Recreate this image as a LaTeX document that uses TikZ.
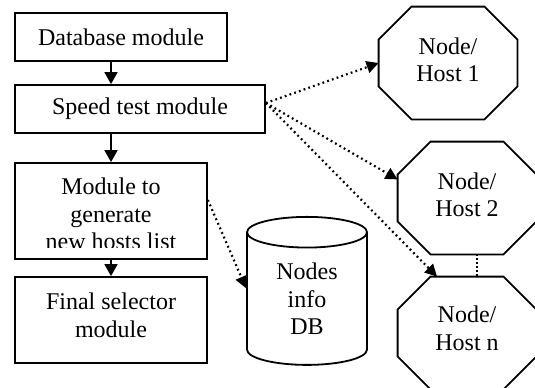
\documentclass[tikz,border=0pt]{standalone}
\usepackage{fontspec}
\setmainfont{Liberation Serif}
\usetikzlibrary{shapes.geometric,arrows.meta}

\begin{document}
\begin{tikzpicture}[x=0.5pt,y=-0.5pt,font=\fontsize{12}{13.8}\selectfont,
  box/.style={draw,line width=0.9pt,inner sep=0pt,align=center},
  host/.style={inner sep=0pt,minimum width=69pt,minimum height=56pt,
    align=center,text depth=3.5pt},
  flow/.style={-{Triangle[width=6.5pt,length=6pt]},line width=0.9pt},
  link/.style={-{Triangle[width=6pt,length=6pt]},line width=1.1pt,
    dash pattern=on 0.9pt off 1.6pt}]
      \clip (0,0) rectangle (535,387);
      \node [box, minimum width=106pt, minimum height=24pt] (db) at (121,37) {Database module};
      \node [box, minimum width=125pt, minimum height=24pt] (speed) at (140,109) {Speed test module};
      \node [box, minimum width=96pt, minimum height=48pt] (gen) at (111,211) {};
      \begin{scope}
      \clip (15,163) rectangle (207,247);
      \node [align=center, inner sep=0pt] (gentext) at (111,214) {Module to\\generate\\new hosts list};
      \end{scope}
      \node [box, minimum width=96pt, minimum height=43pt, text depth=5pt] (final) at (111,320) {Final selector\\module};
      \node [cylinder, shape border rotate=90, draw, line width=0.9pt, aspect=0.5,
        minimum width=60pt, minimum height=74pt, align=center, inner sep=0pt] (cyl) at (307,299) {Nodes\\info\\DB};
      \node [host] (host1) at (448,63) {Node/\\Host 1};
      \node [host] (host2) at (467,198) {Node/\\Host 2};
      \node [host, text depth=5pt] (hostn) at (467,333) {Node/\\Host n};
      \foreach \h in {host1,host2,hostn}
      \draw [line width=0.9pt] ([xshift=16.5pt]\h.north west) -- ([xshift=-16.5pt]\h.north east)
        -- ([yshift=-16.5pt]\h.north east) -- ([yshift=16.5pt]\h.south east)
        -- ([xshift=-16.5pt]\h.south east) -- ([xshift=16.5pt]\h.south west)
        -- ([yshift=16.5pt]\h.south west) -- ([yshift=-16.5pt]\h.north west) -- cycle;

      \draw [flow] (db.south -| gen) -- (speed.north -| gen);
      \draw [flow] (speed.south -| gen) -- (gen.north);
      \draw [flow] (gen.south) -- (final.north);

      \coordinate (out) at ([yshift=3pt]speed.east);
      \draw [link] (out) -- (host1.west);
      \draw [link] (out) -- (host2.165);
      \draw [link] (out) -- (hostn.118);
      \draw [link] ([yshift=5.5pt]gen.east) -- (cyl.170);
      \draw [line width=0.7pt, dash pattern=on 0.6pt off 1.4pt] ([xshift=5pt]host2.south) -- ([xshift=5pt]hostn.north);
\end{tikzpicture}
\end{document}
